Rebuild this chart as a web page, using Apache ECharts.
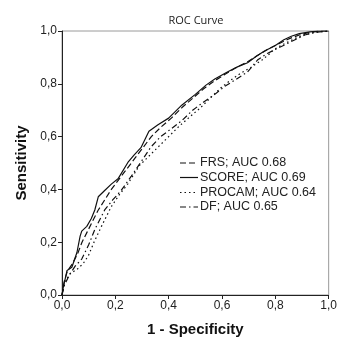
<!DOCTYPE html>
<html>
<head>
<meta charset="utf-8">
<script src="https://cdn.jsdelivr.net/npm/echarts@6/dist/echarts.min.js"></script>
<style>html,body{margin:0;padding:0;background:#fff}#c{width:340px;height:342px}</style>
</head>
<body>
<div id="c"></div>
<script>
var seriesNames = ['FRS; AUC 0.68', 'SCORE; AUC 0.69', 'PROCAM; AUC 0.64', 'DF; AUC 0.65'];
var xTicks = [0, 0.2, 0.4, 0.6, 0.8, 1.0];

var frsX = [0, 0.008, 0.02, 0.04, 0.06, 0.075, 0.095, 0.115, 0.135, 0.16, 0.185, 0.215, 0.245, 0.275, 0.305, 0.335, 0.37, 0.41, 0.45, 0.49, 0.53, 0.57, 0.61, 0.65, 0.69, 0.73, 0.77, 0.81, 0.85, 0.89, 0.93, 0.97, 1.0];
var frsY = [0, 0.05, 0.09, 0.12, 0.16, 0.2, 0.24, 0.28, 0.32, 0.36, 0.4, 0.44, 0.48, 0.52, 0.56, 0.6, 0.635, 0.67, 0.71, 0.745, 0.78, 0.81, 0.835, 0.86, 0.88, 0.905, 0.93, 0.95, 0.97, 0.985, 0.995, 1.0, 1.0];

var scoreX = [0, 0.005, 0.019, 0.037, 0.056, 0.068, 0.074, 0.093, 0.11, 0.123, 0.136, 0.16, 0.185, 0.21, 0.247, 0.27, 0.296, 0.326, 0.36, 0.4, 0.449, 0.5, 0.54, 0.573, 0.62, 0.66, 0.696, 0.73, 0.758, 0.8, 0.832, 0.86, 0.89, 0.93, 0.96, 1.0];
var scoreY = [0, 0.03, 0.093, 0.105, 0.161, 0.223, 0.242, 0.26, 0.29, 0.322, 0.372, 0.396, 0.42, 0.44, 0.502, 0.53, 0.558, 0.62, 0.645, 0.67, 0.719, 0.76, 0.795, 0.818, 0.845, 0.865, 0.88, 0.905, 0.923, 0.945, 0.967, 0.98, 0.99, 0.997, 1.0, 1.0];

var procamX = [0, 0.01, 0.03, 0.06, 0.08, 0.099, 0.12, 0.148, 0.185, 0.215, 0.247, 0.29, 0.33, 0.358, 0.4, 0.44, 0.474, 0.52, 0.56, 0.596, 0.634, 0.67, 0.708, 0.75, 0.78, 0.795, 0.83, 0.87, 0.906, 0.95, 1.0];
var procamY = [0, 0.05, 0.08, 0.1, 0.12, 0.149, 0.2, 0.26, 0.335, 0.38, 0.421, 0.49, 0.53, 0.558, 0.6, 0.64, 0.67, 0.71, 0.75, 0.785, 0.815, 0.84, 0.862, 0.89, 0.915, 0.93, 0.95, 0.97, 0.985, 0.995, 1.0];

var dfX = [0, 0.01, 0.03, 0.05, 0.074, 0.1, 0.123, 0.16, 0.19, 0.222, 0.26, 0.3, 0.333, 0.37, 0.41, 0.449, 0.49, 0.53, 0.573, 0.61, 0.65, 0.696, 0.733, 0.77, 0.81, 0.85, 0.88, 0.91, 0.95, 1.0];
var dfY = [0, 0.04, 0.08, 0.11, 0.136, 0.19, 0.248, 0.322, 0.36, 0.396, 0.45, 0.51, 0.56, 0.6, 0.63, 0.66, 0.7, 0.73, 0.76, 0.79, 0.815, 0.845, 0.89, 0.915, 0.935, 0.955, 0.97, 0.985, 0.995, 1.0];

function pairs(xs, ys) { return xs.map(function (x, i) { return [x, ys[i]]; }); }
function fmt(v) { return v.toFixed(1).replace('.', ','); }

var dashes = [[6, 3], null, [1.5, 3], [6, 3, 1.5, 3]];
var chart = echarts.init(document.getElementById('c'), null, { renderer: 'canvas' });
var lineW = 1.2;
function mk(i, data) {
  return {
    name: seriesNames[i], type: 'line', data: data, symbol: 'none', animation: false,
    color: '#111',
    lineStyle: { color: '#111', width: lineW, type: dashes[i] || 'solid' }
  };
}

// Legend drawn as graphic elements (style only)
var legendG = [];
var rowY = [163, 177.5, 192.5, 207];
seriesNames.forEach(function (n, i) {
  legendG.push({
    type: 'line', shape: { x1: 180, y1: rowY[i], x2: 198, y2: rowY[i] },
    style: { stroke: '#111', lineWidth: 1.2, lineDash: dashes[i] || null }
  });
  legendG.push({
    type: 'text', x: 200, y: rowY[i],
    style: { text: n, font: '12.5px "Liberation Sans"', fill: '#222', textVerticalAlign: 'middle', verticalAlign: 'middle' }
  });
});

chart.setOption({
  animation: false,
  title: {
    text: 'ROC Curve', left: 191, top: 10, textAlign: 'center',
    textStyle: { fontFamily: 'Open Sans', fontSize: 11, fontWeight: 'normal', color: '#222' }
  },
  grid: { left: 62, right: 8, top: 31, bottom: 42, show: true, borderColor: '#9a9a9a', borderWidth: 1, backgroundColor: '#fff' },
  graphic: legendG,
  xAxis: {
    type: 'value', min: 0, max: 1, interval: 0.2,
    name: '1 - Specificity', nameLocation: 'middle', nameGap: 27,
    nameTextStyle: { fontFamily: 'Liberation Sans', fontSize: 15, fontWeight: 'bold', color: '#111' },
    axisLine: { lineStyle: { color: '#222', width: 1 } },
    axisTick: { inside: false, length: 4, lineStyle: { color: '#222' } },
    axisLabel: { formatter: fmt, fontFamily: 'Liberation Sans', fontSize: 12, color: '#222', margin: 5 },
    splitLine: { show: false }
  },
  yAxis: {
    type: 'value', min: 0, max: 1, interval: 0.2,
    name: 'Sensitivity', nameLocation: 'middle', nameGap: 33,
    nameTextStyle: { fontFamily: 'Liberation Sans', fontSize: 15, fontWeight: 'bold', color: '#111' },
    axisLine: { show: true, lineStyle: { color: '#222', width: 1 } },
    axisTick: { show: true, inside: false, length: 4, lineStyle: { color: '#222' } },
    axisLabel: { formatter: fmt, fontFamily: 'Liberation Sans', fontSize: 12, color: '#222', margin: 5 },
    splitLine: { show: false }
  },
  series: [
    mk(0, pairs(frsX, frsY)),
    mk(1, pairs(scoreX, scoreY)),
    mk(2, pairs(procamX, procamY)),
    mk(3, pairs(dfX, dfY))
  ]
});
</script>
</body>
</html>
